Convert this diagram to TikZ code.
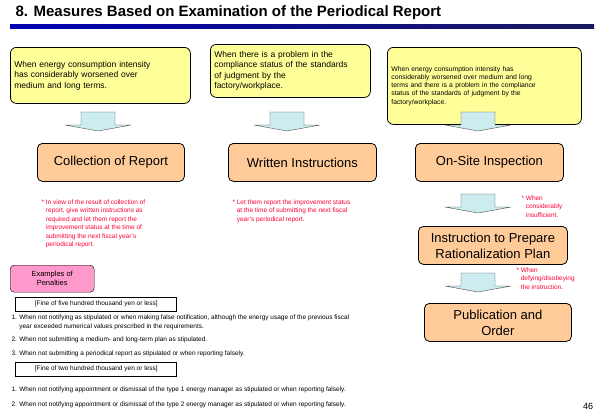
\documentclass[tikz,border=0pt]{standalone}
\usepackage{fontspec}
\setmainfont{Liberation Sans}
\usetikzlibrary{positioning}
\definecolor{condyellow}{RGB}{255,255,153}
\definecolor{measorange}{RGB}{255,204,153}
\definecolor{arrowblue}{RGB}{204,236,240}
\definecolor{notered}{RGB}{255,0,51}
\definecolor{penpink}{RGB}{255,153,204}
\newcommand{\blockarrow}[2]{%
  \filldraw[fill=arrowblue, draw=black!70] (#1-17,#2) -- (#1+17,#2) -- (#1+17,#2+13) -- (#1+33,#2+13) -- (#1,#2+19) -- (#1-33,#2+13) -- (#1-17,#2+13) -- cycle;}
\tikzset{
  cond/.style={draw=black, fill=condyellow, rounded corners=6pt, thick, align=left, inner sep=4pt, font=\fontsize{8.5}{10.5}\selectfont},
  measure/.style={draw=black, fill=measorange, rounded corners=5pt, thick, align=center, minimum height=38pt, font=\fontsize{13}{16}\selectfont},
  note/.style={text=notered, align=left, anchor=north west, font=\fontsize{6.5}{8.5}\selectfont},
  fine/.style={draw=black, anchor=north west, inner sep=2pt, minimum width=161pt, minimum height=14pt, align=left, font=\fontsize{6.5}{8}\selectfont},
  item/.style={anchor=north west, align=left, font=\fontsize{6.5}{9}\selectfont}
}
\begin{document}
\begin{tikzpicture}[x=1pt,y=-1pt]
  \useasboundingbox (0,0) rectangle (600,415);
  % title
  \node[anchor=west, font=\fontsize{15}{18}\bfseries] (title) at (12,13) {8. Measures Based on Examination of the Periodical Report};
  \shade[left color=blue!70!black, right color=blue!30!black!90] (10,24) rectangle (594,28);
  % conditions
  \node[cond, text width=172pt, minimum height=56pt, anchor=north west] (c1) at (10,47) {When energy consumption intensity\\has considerably worsened over\\medium and long terms.};
  \node[cond, text width=152pt, minimum height=53pt, anchor=north west] (c2) at (210,44) {When there is a problem in the\\compliance status of the standards\\of judgment by the\\factory/workplace.};
  \node[cond, text width=186pt, minimum height=77pt, anchor=north west, font=\fontsize{6.8}{8.3}\selectfont] (c3) at (387,47) {When energy consumption intensity has\\considerably worsened over medium and long\\terms and there is a problem in the compliance\\status of the standards of judgment by the\\factory/workplace.};
  % measures
  \node[measure, minimum width=147pt, anchor=north west] (m1) at (37,143) {Collection of Report};
  \node[measure, minimum width=148pt, anchor=north west] (m2) at (228,143) {Written Instructions};
  \node[measure, minimum width=148pt, anchor=north west] (m3) at (415,143) {On-Site Inspection};
  \node[measure, minimum width=149pt, anchor=north west] (m4) at (418,226) {Instruction to Prepare\\Rationalization Plan};
  \node[measure, minimum width=147pt, anchor=north west] (m5) at (424,303) {Publication and\\Order};
  \blockarrow{98}{112}
  \blockarrow{287}{112}
  \blockarrow{478}{112}
  \blockarrow{478}{194}
  \blockarrow{478}{273}
  % notes
  \node[note] (n1) at (38,196) {* In view of the result of collection of\\\phantom{* }report, give written instructions as\\\phantom{* }required and let them report the\\\phantom{* }improvement status at the time of\\\phantom{* }submitting the next fiscal year's\\\phantom{* }periodical report.};
  \node[note] (n2) at (229,196) {* Let them report the improvement status\\\phantom{* }at the time of submitting the next fiscal\\\phantom{* }year's periodical report.};
  \node[note] (n3) at (518,192) {* When\\\phantom{* }considerably\\\phantom{* }insufficient.};
  \node[note] (n4) at (513,264) {* When\\\phantom{* }defying/disobeying\\\phantom{* }the instruction.};
  % penalties
  \node[draw=black, fill=penpink, rounded corners=4pt, anchor=north west, minimum width=84pt, minimum height=27pt, align=center, font=\fontsize{7.5}{9}\selectfont] (pen) at (10,265) {Examples of\\Penalties};
  \node[fine] (f1) at (15,297) {\,[Fine of five hundred thousand yen or less]};
  \node[item] (i1) at (8,311) {1. When not notifying as stipulated or when making false notification, although the energy usage of the previous fiscal\\\phantom{1. }year exceeded numerical values prescribed in the requirements.};
  \node[item] (i2) at (8,333) {2. When not submitting a medium- and long-term plan as stipulated.};
  \node[item] (i3) at (8,347) {3. When not submitting a periodical report as stipulated or when reporting falsely.};
  \node[fine] (f2) at (15,362) {\,[Fine of two hundred thousand yen or less]};
  \node[item] (j1) at (8,383) {1. When not notifying appointment or dismissal of the type 1 energy manager as stipulated or when reporting falsely.};
  \node[item] (j2) at (8,398) {2. When not notifying appointment or dismissal of the type 2 energy manager as stipulated or when reporting falsely.};
  \node[font=\fontsize{9}{10}\selectfont] (page) at (588,406) {46};
\end{tikzpicture}
\end{document}
